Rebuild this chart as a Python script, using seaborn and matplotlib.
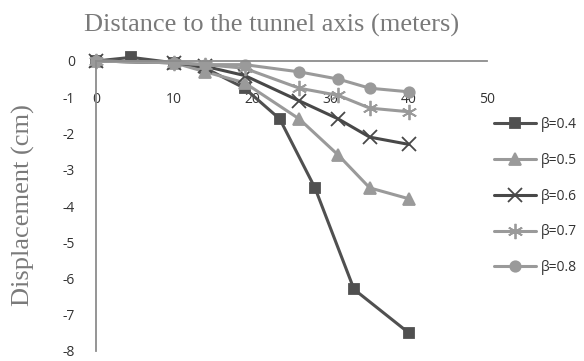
import numpy as np
import pandas as pd
import matplotlib
matplotlib.use("Agg")
import matplotlib.pyplot as plt
import seaborn as sns

# Ground displacement profiles for several volume-loss ratios
series = ["β=0.4", "β=0.5", "β=0.6", "β=0.7", "β=0.8"]
x_b04 = [0, 4.5, 10, 14, 19, 23.5, 28, 33, 40]
y_b04 = [0, 0.1, -0.05, -0.2, -0.75, -1.6, -3.5, -6.3, -7.5]
x_common = [0, 10, 14, 19, 26, 31, 35, 40]
y_b05 = [0, -0.05, -0.3, -0.6, -1.6, -2.6, -3.5, -3.8]
y_b06 = [0, -0.05, -0.15, -0.4, -1.1, -1.6, -2.1, -2.3]
y_b07 = [0, -0.05, -0.1, -0.2, -0.75, -0.95, -1.3, -1.4]
y_b08 = [0, -0.05, -0.1, -0.1, -0.3, -0.5, -0.75, -0.85]

x_ticks = [0, 10, 20, 30, 40, 50]
y_ticks = [0, -1, -2, -3, -4, -5, -6, -7, -8]

frames = [pd.DataFrame({"x": x_b04, "y": y_b04, "beta": series[0]})]
for name, ys in zip(series[1:], [y_b05, y_b06, y_b07, y_b08]):
    frames.append(pd.DataFrame({"x": x_common, "y": ys, "beta": name}))
df = pd.concat(frames, ignore_index=True)

sns.set_style("white")
palette = {"β=0.4": "#505050", "β=0.5": "#9a9a9a", "β=0.6": "#484848",
           "β=0.7": "#9a9a9a", "β=0.8": "#9a9a9a"}
markers = {"β=0.4": "s", "β=0.5": "^", "β=0.6": "x", "β=0.7": (6, 2, 0),
           "β=0.8": "o"}
msizes = {"β=0.4": 7, "β=0.5": 8.5, "β=0.6": 10, "β=0.7": 11, "β=0.8": 7.5}

fig = plt.figure(figsize=(5.84, 3.61), dpi=100)
ax = fig.add_axes([96 / 584, 10 / 361, 391 / 584, 290 / 361])

for name in series:
    c = palette[name]
    sub = df[df["beta"] == name]
    sns.lineplot(data=sub, x="x", y="y", color=c, marker=markers[name],
                 markersize=msizes[name], markerfacecolor=c,
                 markeredgecolor=c, markeredgewidth=1.3, sort=False,
                 estimator=None, linewidth=2.2, ax=ax, label=name,
                 clip_on=False, legend=False)

ax.set_xlim(0, 50)
ax.set_ylim(-8, 0)
ax.set_xticks(x_ticks)
ax.set_yticks(y_ticks)
ax.set_xticklabels([str(v) for v in x_ticks])
ax.set_yticklabels([str(v) for v in y_ticks])

for side in ["right", "top"]:
    ax.spines[side].set_visible(False)
ax.spines["bottom"].set_position(("data", 0))
for side in ["left", "bottom"]:
    ax.spines[side].set_color("#8c8c8c")
    ax.spines[side].set_linewidth(1.3)
ax.tick_params(axis="x", direction="out", length=5, width=1.2, color="#8c8c8c",
               pad=17, labelsize=10, labelcolor="#333333")
ax.tick_params(axis="y", direction="out", length=5, width=1.2, color="#8c8c8c",
               pad=10, labelsize=10, labelcolor="#333333")
for lab in ax.get_xticklabels() + ax.get_yticklabels():
    lab.set_fontfamily("Open Sans")
ax.set_xlabel("")
ax.set_ylabel("")

fig.text(272 / 584, 1 - 25 / 361, "Distance to the tunnel axis (meters)",
         family="Liberation Serif", fontsize=19, color="#7a7a7a",
         ha="center", va="center")
fig.text(23 / 584, 1 - 205 / 361, "Displacement (cm)",
         family="Liberation Serif", fontsize=19, color="#7a7a7a",
         ha="center", va="center", rotation=90)

leg = ax.legend(handles=ax.lines[:len(series)], labels=series, frameon=False,
                loc="upper left", bbox_to_anchor=(487 / 584, 1 - 110 / 361),
                bbox_transform=fig.transFigure, handlelength=3.0,
                labelspacing=1.5, handletextpad=0.4, borderpad=0,
                prop={"family": "Open Sans", "size": 10})
for t in leg.get_texts():
    t.set_color("#333333")

fig.savefig("out.png", dpi=100)
